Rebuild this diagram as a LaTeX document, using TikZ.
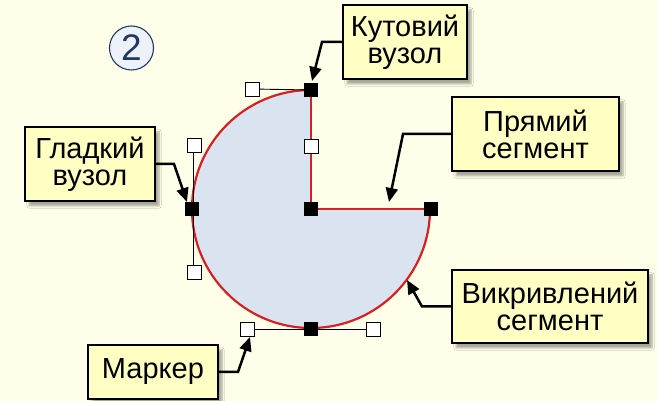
\documentclass[tikz,border=0pt]{standalone}
\usepackage{fontspec}
\setmainfont{Liberation Sans}
\usetikzlibrary{arrows.meta,shadows.blur}
\definecolor{bg}{HTML}{FFFFE9}
\definecolor{boxfill}{HTML}{FFFFC4}
\definecolor{shapefill}{HTML}{DAE3F0}
\definecolor{outline}{HTML}{D92020}
\definecolor{navy}{HTML}{1F3A60}
\definecolor{badgefill}{HTML}{EDF2FA}
\begin{document}
\begin{tikzpicture}[x=1pt,y=1pt,
  callout/.style={draw=black,line width=2pt,fill=boxfill,align=center,inner sep=0pt,
    font=\fontsize{29}{27}\selectfont,
    blur shadow={shadow xshift=4pt,shadow yshift=-5pt,shadow blur steps=6,shadow opacity=35}},
  pointer/.style={draw=black,line width=2.5pt,-{Triangle[length=14pt,width=12pt]}},
  knot/.style={fill=black,draw=black,minimum size=13pt,inner sep=0pt},
  handle/.style={fill=white,draw=black,line width=0.8pt,minimum size=14pt,inner sep=0pt},
  handleline/.style={draw=black,line width=0.9pt},
  seg/.style={draw=outline,line width=2.2pt}
]
\fill[bg] (0,0) rectangle (658,401);
\useasboundingbox (0,0) rectangle (658,401);

% badge
\node[circle,draw=navy,line width=1.1pt,fill=badgefill,minimum size=44pt,inner sep=0pt,
  text=navy,font=\fontsize{37}{37}\selectfont] (badge) at (131.5,353) {2};

% main shape
\coordinate (C) at (311,192);
\fill[shapefill] (311,311) arc[start angle=90,end angle=360,radius=119] -- (C) -- cycle;
\draw[seg,line join=round] (430,192) -- (C) -- (311,311);
\draw[seg] (311,311) arc[start angle=90,end angle=360,radius=119];

% handle lines
\draw[handleline] (252,312) -- (311,311);
\draw[handleline] (193,256) -- (193,129);
\draw[handleline] (247,72) -- (373,72);

% knots and handles
\node[knot] (T) at (311,311) {};
\node[knot] (L) at (192,192) {};
\node[knot] (B) at (311,72) {};
\node[knot] (Cn) at (311,192) {};
\node[knot] (R) at (431,192) {};
\node[handle] (TH) at (252,312) {};
\node[handle] (MV) at (311,255) {};
\node[handle] (LH1) at (194,256) {};
\node[handle] (LH2) at (194,129) {};
\node[handle] (BH1) at (247,72) {};
\node[handle] (BH2) at (373,72) {};

% callouts
\node[callout,minimum width=124pt,minimum height=74pt] (kut) at (405,359) {Кутовий\\вузол};
\node[callout,minimum width=130pt,minimum height=74pt] (glad) at (90,237) {Гладкий\\вузол};
\node[callout,minimum width=167pt,minimum height=74pt] (pryam) at (535.5,267) {Прямий\\сегмент};
\node[callout,minimum width=196pt,minimum height=73pt] (vykr) at (550,94.5) {Викривлений\\сегмент};
\node[callout,minimum width=130pt,minimum height=54pt] (mark) at (153,29) {Маркер};

% pointers
\coordinate (kbend) at (322,359);
\coordinate (ktip) at (312,320);
\coordinate (gbend) at (174,237);
\coordinate (gtip) at (187,199);
\coordinate (pbend) at (403,267);
\coordinate (ptip) at (389,199);
\coordinate (vbend) at (422,94.5);
\coordinate (vtip) at (407,121);
\coordinate (mbend) at (238,29);
\coordinate (mtip) at (250,64);
\draw[pointer] (kut.west) -- (kbend) -- (ktip);
\draw[pointer] (glad.east) -- (gbend) -- (gtip);
\draw[pointer] (pryam.west) -- (pbend) -- (ptip);
\draw[pointer] (vykr.west) -- (vbend) -- (vtip);
\draw[pointer] (mark.east) -- (mbend) -- (mtip);
\end{tikzpicture}
\end{document}
